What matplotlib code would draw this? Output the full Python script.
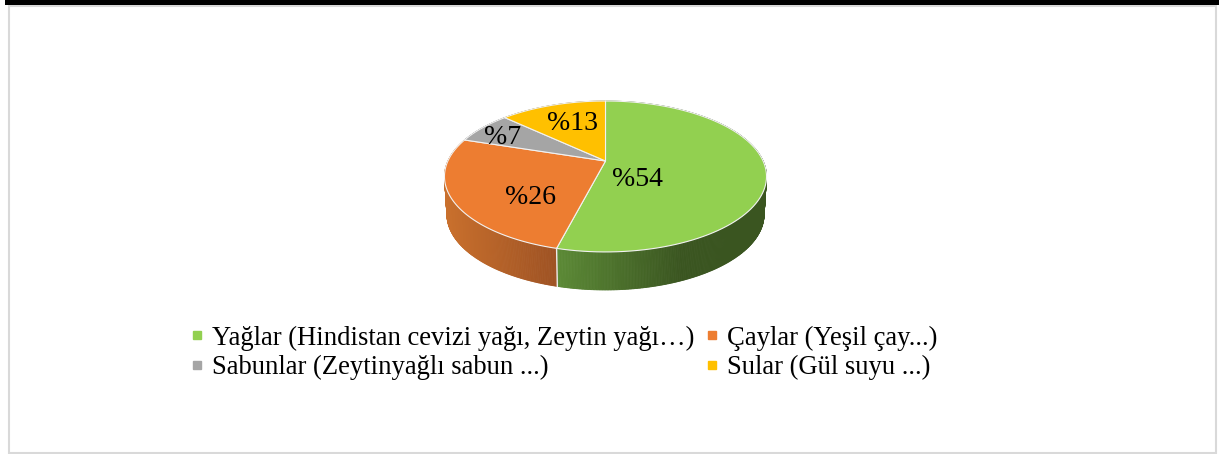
import numpy as np
import matplotlib
matplotlib.use('Agg')
import matplotlib.pyplot as plt
from matplotlib.lines import Line2D
from matplotlib.patches import Polygon, Rectangle
from matplotlib.colors import to_rgb

plt.rcParams['font.family'] = ['Liberation Serif', 'DejaVu Serif']

labels = ['Yağlar (Hindistan cevizi yağı, Zeytin yağı…)', 'Çaylar (Yeşil çay...)',
          'Sabunlar (Zeytinyağlı sabun ...)', 'Sular (Gül suyu ...)']
values = [54, 26, 7, 13]
colors = ['#92D050', '#ED7D31', '#A5A5A5', '#FFC000']
side_left = ['#5C8A36', '#C9702D', '#7A7A7A', '#BF9000']
side_right = ['#3A5520', '#9E5223', '#5A5A5A', '#8F6C00']

# pie geometry in pixels, perspective makes the hub sit above the ellipse middle
hub_x, hub_y = 605.5, 161
A, B, k = 157.6, 72.3, 0.205
depth = 38


def project(theta, shrink=1.0, drop=0):
    # theta clockwise from the top of the pie
    X, Y = np.sin(theta), np.cos(theta)
    w = 1 + k * Y
    return hub_x + shrink * A * X / w, hub_y - B * Y / w + drop


fig = plt.figure(figsize=(12.19, 4.54), dpi=100)
ax = fig.add_axes([0, 0, 1, 1])
ax.set_xlim(0, 1219)
ax.set_ylim(454, 0)
ax.axis('off')

# frame
ax.add_patch(Rectangle((9, 6), 1207, 446.5, fc='white', ec='#D9D9D9', lw=1.5))
ax.add_patch(Rectangle((5, 0), 1214, 5, fc='black', ec='none'))

edges = np.cumsum([0] + values) / sum(values) * 2 * np.pi

# side wall first, thin strips coloured along x
for i in range(len(values)):
    ts = np.linspace(edges[i], edges[i + 1], max(int(values[i] * 8), 2))
    x0 = min(project(t)[0] for t in ts if np.cos(t) < 0.05) if np.cos(ts).min() < 0 else 0
    x1 = max(project(t)[0] for t in ts if np.cos(t) < 0.05) if np.cos(ts).min() < 0 else 1
    if i == 0:
        x1 = x0 + 125
    c0, c1 = np.array(to_rgb(side_left[i])), np.array(to_rgb(side_right[i]))
    for a, b in zip(ts[:-1], ts[1:]):
        xa, ya = project(a)
        xb, yb = project(b)
        xa2, ya2 = project(a, 0.985, depth)
        xb2, yb2 = project(b, 0.985, depth)
        f = np.clip(((xa + xb) / 2 - x0) / (x1 - x0), 0, 1)
        col = c0 + (c1 - c0) * f
        ax.add_patch(Polygon([(xa, ya), (xb, yb), (xb2, yb2), (xa2, ya2)], closed=True,
                             fc=col, ec=col, lw=0.6))

# white seam on the side between green and orange
xs, ys = project(edges[1])
xs2, ys2 = project(edges[1], 0.985, depth)
ax.plot([xs, xs2], [ys, ys2], color='#EDEDED', lw=1)

# top face
for i in range(len(values)):
    ts = np.linspace(edges[i], edges[i + 1], 100)
    px, py = project(ts)
    pts = [(hub_x, hub_y)] + list(zip(px, py))
    ax.add_patch(Polygon(pts, closed=True, fc=colors[i], ec='#F2F2F2', lw=0.8, joinstyle='round'))

ax.text(637, 179, '%54', fontsize=20, ha='center', va='center')
ax.text(530, 197, '%26', fontsize=20, ha='center', va='center')
ax.text(503, 138, '%7', fontsize=20, ha='center', va='center')
ax.text(572, 123, '%13', fontsize=20, ha='center', va='center')

# column-first order for the two column legend
order = [0, 2, 1, 3]
handles = [Line2D([], [], ls='none', marker='s', ms=5.5, color=colors[i]) for i in order]
ax.legend(handles, [labels[i] for i in order], ncol=2, frameon=False, fontsize=19.2,
          loc='center', bbox_to_anchor=(563.5, 353), bbox_transform=ax.transData,
          handlelength=0.6, handletextpad=0.26, columnspacing=0.37,
          labelspacing=0.17, borderpad=0, borderaxespad=0)

fig.savefig('out.png', dpi=100)
